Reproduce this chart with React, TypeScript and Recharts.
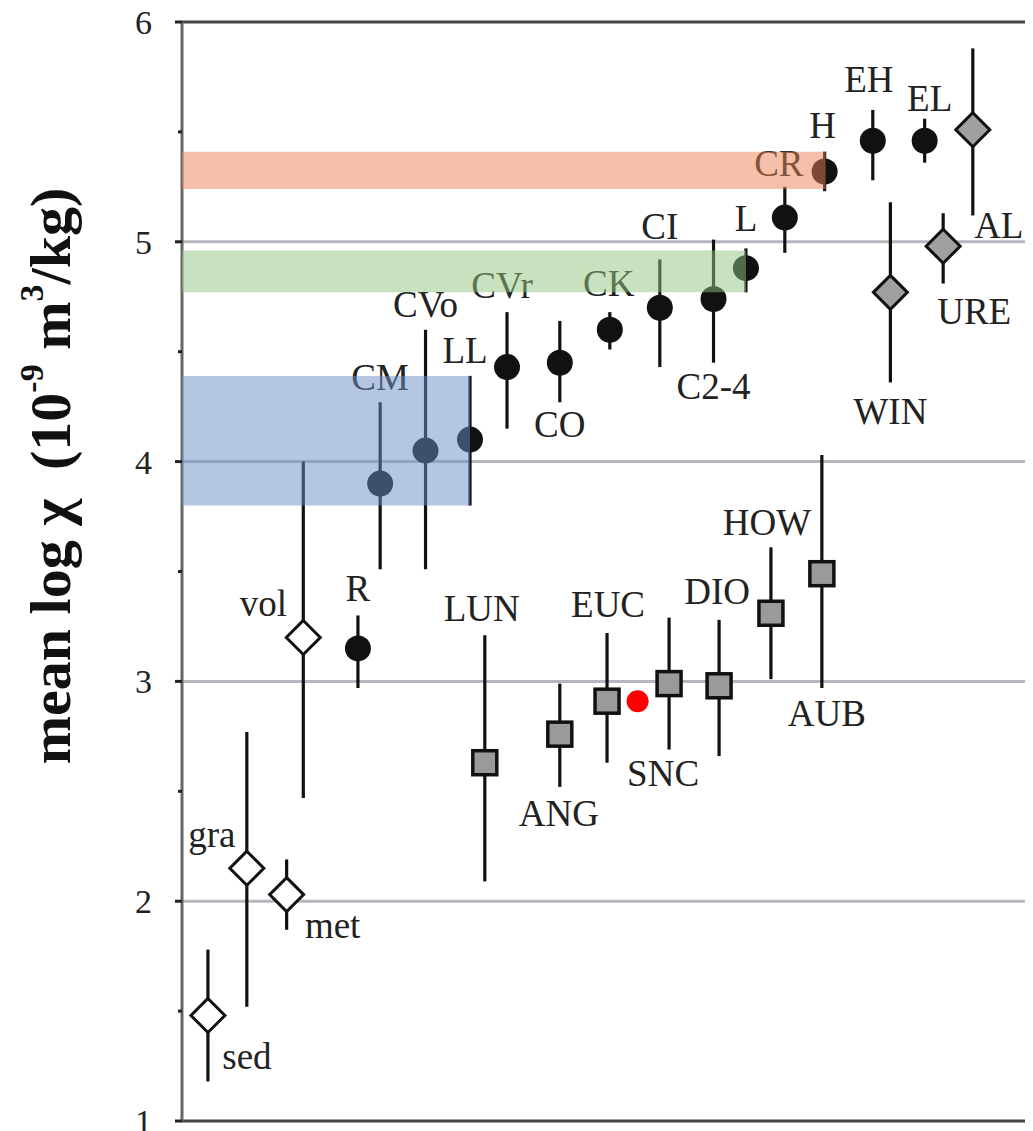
import { ScatterChart, Scatter, XAxis, YAxis, ErrorBar, ReferenceArea, ReferenceLine, CartesianGrid, Label } from 'recharts'

// terrestrial rocks (open diamonds)
const rockNames = ['sed', 'gra', 'met', 'vol']
const rockX = [2.8, 7.0, 11.3, 13.1]
const rockMean = [1.48, 2.15, 2.03, 3.2]
const rockLow = [1.18, 1.52, 1.87, 2.47]
const rockHigh = [1.78, 2.77, 2.19, 4.0]

// chondrites (black circles)
const chonNames = ['R', 'CM', 'CVo', 'LL', 'CVr', 'CO', 'CK', 'CI', 'C2-4', 'L', 'CR', 'H', 'EH', 'EL']
const chonX = [19.0, 21.4, 26.3, 31.1, 35.1, 40.8, 46.2, 51.6, 57.4, 60.9, 65.1, 69.4, 74.6, 80.2]
const chonMean = [3.15, 3.9, 4.05, 4.1, 4.43, 4.45, 4.6, 4.7, 4.74, 4.88, 5.11, 5.32, 5.46, 5.46]
const chonLow = [2.97, 3.51, 3.51, 3.8, 4.15, 4.27, 4.51, 4.43, 4.45, 4.77, 4.95, 5.23, 5.28, 5.36]
const chonHigh = [3.3, 4.27, 4.6, 4.39, 4.68, 4.64, 4.68, 4.92, 5.01, 4.97, 5.25, 5.41, 5.6, 5.56]

// primitive achondrites (grey diamonds)
const primNames = ['WIN', 'URE', 'AL']
const primX = [76.5, 82.2, 85.4]
const primMean = [4.77, 4.98, 5.51]
const primLow = [4.36, 4.81, 5.12]
const primHigh = [5.18, 5.13, 5.88]

// achondrites (grey squares)
const achNames = ['LUN', 'ANG', 'EUC', 'SNC', 'DIO', 'HOW', 'AUB']
const achX = [32.7, 40.8, 45.9, 52.6, 58.0, 63.6, 69.1]
const achMean = [2.63, 2.76, 2.91, 2.99, 2.98, 3.31, 3.49]
const achLow = [2.09, 2.52, 2.63, 2.69, 2.66, 3.01, 2.97]
const achHigh = [3.21, 2.99, 3.22, 3.29, 3.28, 3.61, 4.03]

const redX = [49.2]
const redY = [2.91]

// bands: x end, y low, y high
const bands = [
  { x2: 31.1, y1: 3.8, y2: 4.39, fill: 'rgb(108,142,200)' },
  { x2: 60.9, y1: 4.77, y2: 4.96, fill: 'rgb(145,198,128)' },
  { x2: 69.5, y1: 5.24, y2: 5.41, fill: 'rgb(234,130,84)' },
]

const yTicks = [1, 1.5, 2, 2.5, 3, 3.5, 4, 4.5, 5, 5.5, 6]

// label offsets from marker centre (px)
const labelOffset: Record<string, [number, number]> = {
  sed: [39, 41], gra: [-35, -34], met: [46, 30], vol: [-40, -34],
  R: [0, -60], CM: [0, -107], CVo: [0, -147], LL: [-5, -90], CVr: [-5, -82],
  CO: [0, 61], CK: [-1, -47], CI: [0, -82], 'C2-4': [0, 87], L: [0, -50],
  CR: [-6, -55], H: [-2, -46], EH: [-4, -62], EL: [5, -43],
  WIN: [0, 119], URE: [31, 65], AL: [26, 95],
  LUN: [-3, -155], ANG: [-1, 79], EUC: [1, -97], SNC: [-6, 89], DIO: [-2, -95], HOW: [-4, -91], AUB: [5, 139],
}

const build = (names: string[], xs: number[], m: number[], lo: number[], hi: number[]) =>
  names.map((n, i) => ({ name: n, x: xs[i], y: m[i], err: [m[i] - lo[i], hi[i] - m[i]] }))

const rocks = build(rockNames, rockX, rockMean, rockLow, rockHigh)
const chondrites = build(chonNames, chonX, chonMean, chonLow, chonHigh)
const primitive = build(primNames, primX, primMean, primLow, primHigh)
const achondrites = build(achNames, achX, achMean, achLow, achHigh)
const red = redX.map((x, i) => ({ x, y: redY[i] }))

const FONT = 'Liberation Serif, Times New Roman, serif'

function PointLabel({ cx, cy, name }: { cx: number; cy: number; name: string }) {
  const [dx, dy] = labelOffset[name] || [0, -40]
  return (
    <text x={cx + dx} y={cy + dy} dy="0.35em" textAnchor="middle" fontFamily={FONT} fontSize={37} fill="#222">
      {name}
    </text>
  )
}

const diamond = (fill: string) => (props: any) => {
  const { cx, cy, payload } = props
  const s = 17
  return (
    <g>
      <polygon points={`${cx},${cy - s} ${cx + s},${cy} ${cx},${cy + s} ${cx - s},${cy}`} fill={fill} stroke="#111" strokeWidth={3} />
      <PointLabel cx={cx} cy={cy} name={payload.name} />
    </g>
  )
}

const circle = (props: any) => {
  const { cx, cy, payload } = props
  return (
    <g>
      <circle cx={cx} cy={cy} r={13} fill="#111" />
      <PointLabel cx={cx} cy={cy} name={payload.name} />
    </g>
  )
}

const square = (props: any) => {
  const { cx, cy, payload } = props
  return (
    <g>
      <rect x={cx - 12} y={cy - 12} width={24} height={24} fill="#9a9a9a" stroke="#111" strokeWidth={3.5} />
      <PointLabel cx={cx} cy={cy} name={payload.name} />
    </g>
  )
}

const redDot = (props: any) => <circle cx={props.cx} cy={props.cy} r={11} fill="#ff0000" />

const YTick = (props: any) => {
  const { x, y, payload } = props
  const major = Number.isInteger(payload.value)
  return (
    <g>
      <line x1={x - (major ? 7 : 4)} x2={x} y1={y} y2={y} stroke="#222" strokeWidth={3} />
      {major && (
        <text x={x - 30} y={y} dy="0.35em" textAnchor="end" fontFamily={FONT} fontSize={34} fill="#222">
          {payload.value}
        </text>
      )}
    </g>
  )
}

const YLabel = () => (
  <text
    x={42}
    y={468}
    transform="rotate(-90, 42, 468)"
    textAnchor="middle"
    dominantBaseline="central"
    fontFamily={FONT}
    fontWeight="bold"
    fontSize={58}
    fill="#111"
  >
    mean log χ{'\u00a0\u00a0'}(10
    <tspan dy={-19} fontSize={34}>-9</tspan>
    <tspan dy={19}> m</tspan>
    <tspan dy={-19} fontSize={34}>3</tspan>
    <tspan dy={19}>/kg)</tspan>
  </text>
)

const errBar = <ErrorBar dataKey="err" direction="y" width={0} stroke="#111" strokeWidth={3.2} />

export default function App() {
  return (
    <div style={{ width: 1025, overflow: 'hidden' }}>
      <ScatterChart width={1100} height={1123} margin={{ top: 14, right: 0, bottom: 10, left: 0 }}>
        <CartesianGrid vertical={false} horizontalValues={[2, 3, 4, 5]} stroke="#b6b6be" strokeWidth={3} />
        <XAxis type="number" dataKey="x" domain={[0, 100]} hide />
        <YAxis
          type="number"
          dataKey="y"
          domain={[1, 6]}
          ticks={yTicks}
          width={174}
          tickSize={0}
          tickMargin={0}
          tick={YTick}
          axisLine={{ stroke: '#666', strokeWidth: 3 }}
          tickLine={false}
        >
          <Label content={YLabel} />
        </YAxis>
        <ReferenceLine y={6} stroke="#444" strokeWidth={3} />
        <ReferenceLine y={1} stroke="#444" strokeWidth={3} />
        <Scatter data={rocks} shape={diamond('#ffffff')} isAnimationActive={false}>{errBar}</Scatter>
        <Scatter data={chondrites} shape={circle} isAnimationActive={false}>{errBar}</Scatter>
        <Scatter data={primitive} shape={diamond('#a0a0a0')} isAnimationActive={false}>{errBar}</Scatter>
        <Scatter data={achondrites} shape={square} isAnimationActive={false}>{errBar}</Scatter>
        <Scatter data={red} shape={redDot} isAnimationActive={false} />
        {bands.map((b, i) => (
          <ReferenceArea key={i} x1={0} x2={b.x2} y1={b.y1} y2={b.y2} fill={b.fill} fillOpacity={0.5} stroke="none" zIndex={2500} />
        ))}
      </ScatterChart>
    </div>
  )
}
